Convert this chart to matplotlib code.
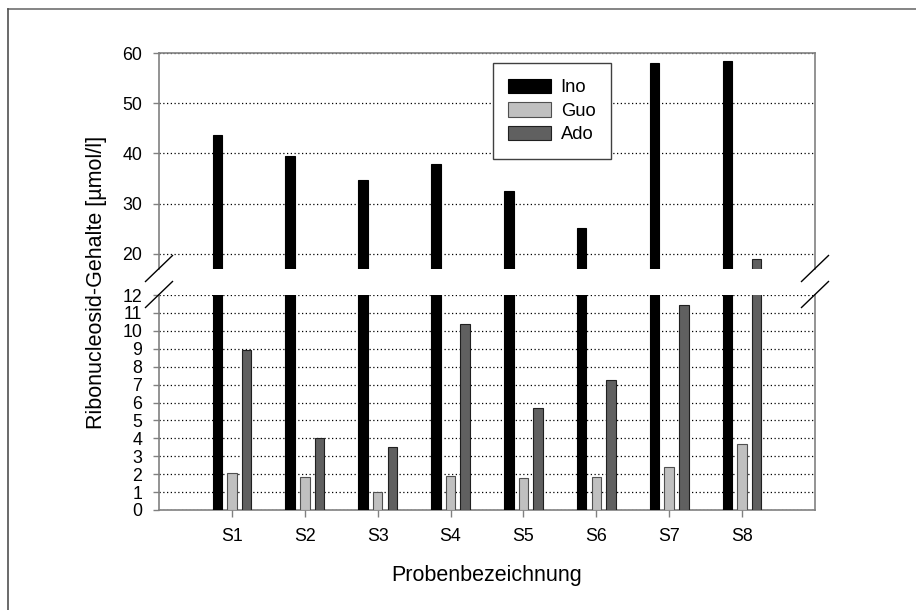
import matplotlib
matplotlib.use("Agg")
import matplotlib.pyplot as plt
import numpy as np
from matplotlib.lines import Line2D

plt.rcParams['font.family'] = ['Liberation Sans', 'DejaVu Sans']

# Data
samples = ['S1', 'S2', 'S3', 'S4', 'S5', 'S6', 'S7', 'S8']
ino = [43.7, 39.4, 34.7, 38.0, 32.6, 25.1, 58.1, 58.4]
guo = [2.08, 1.86, 0.99, 1.88, 1.77, 1.82, 2.38, 3.66]
ado = [8.95, 4.0, 3.53, 10.38, 5.67, 7.24, 11.42, 18.9]

series = [('Ino', ino, 'black', 'black'),
          ('Guo', guo, '#c0c0c0', '#505050'),
          ('Ado', ado, '#606060', '#202020')]

W, H = 916, 610
fig = plt.figure(figsize=(W / 100, H / 100), dpi=100)

left, right = 159, 815
ax_top = fig.add_axes([left / W, 1 - 269 / H, (right - left) / W, 216 / H])
ax_bot = fig.add_axes([left / W, 1 - 510 / H, (right - left) / W, 215 / H])

x = np.arange(1, len(samples) + 1)
width = 0.13
offsets = [-0.2, 0.0, 0.2]

spine_col = '#808080'
for ax in (ax_top, ax_bot):
    for (name, vals, fc, ec), off in zip(series, offsets):
        ax.bar(x + off, vals, width, color=fc, edgecolor=ec, linewidth=0.8,
               label=name, zorder=3)
    ax.set_xlim(0, 9)
    ax.set_axisbelow(True)
    ax.yaxis.grid(True, color='black', linestyle=(0, (1, 2)), linewidth=0.9)
    for s in ax.spines.values():
        s.set_color(spine_col)
        s.set_linewidth(1.2)
    ax.tick_params(axis='y', direction='out', length=4.5, width=1,
                   color=spine_col, pad=7.5, labelsize=12.8)

ax_top.set_ylim(17, 60)
ax_top.set_yticks([20, 30, 40, 50, 60])
ax_top.spines['bottom'].set_visible(False)
ax_top.tick_params(axis='x', bottom=False, labelbottom=False)

ax_bot.set_ylim(0, 12)
ax_bot.set_yticks(range(0, 13))
ax_bot.spines['top'].set_visible(False)
ax_bot.set_xticks(x)
ax_bot.set_xticklabels(samples)
ax_bot.tick_params(axis='x', direction='out', length=5, width=1,
                   color=spine_col, pad=8, labelsize=12.8)

# Legend
leg = ax_top.legend(loc='upper left', bbox_to_anchor=(0.509, 0.954),
                    borderaxespad=0, fontsize=13.2, fancybox=False,
                    framealpha=1, edgecolor='#404040', handlelength=2.3,
                    handleheight=0.85, labelspacing=0.32, handletextpad=0.55,
                    borderpad=0.85)
leg.get_frame().set_linewidth(1.0)

# Axis break marks
dx, dy = 13.5 / W, 13 / H
for xp in (left / W, right / W):
    for yp in (1 - 268.5 / H, 1 - 294.5 / H):
        fig.add_artist(Line2D([xp - dx, xp + dx], [yp - dy, yp + dy],
                              color='black', linewidth=1.0))

# Labels
fig.text(97 / W, 1 - 282 / H, 'Ribonucleosid-Gehalte [µmol/l]', rotation=90,
         ha='center', va='center', fontsize=15.5)
fig.text((left + right) / 2 / W, 1 - 576 / H, 'Probenbezeichnung',
         ha='center', va='center', fontsize=15.5)

# Outer frame (top and left edges)
fig.add_artist(Line2D([7.5 / W, 1], [1 - 8.5 / H, 1 - 8.5 / H],
                      color='#707070', linewidth=1.2))
fig.add_artist(Line2D([7.5 / W, 7.5 / W], [0, 1 - 8.5 / H],
                      color='#505050', linewidth=1.2))

fig.savefig('out.png', dpi=100)
